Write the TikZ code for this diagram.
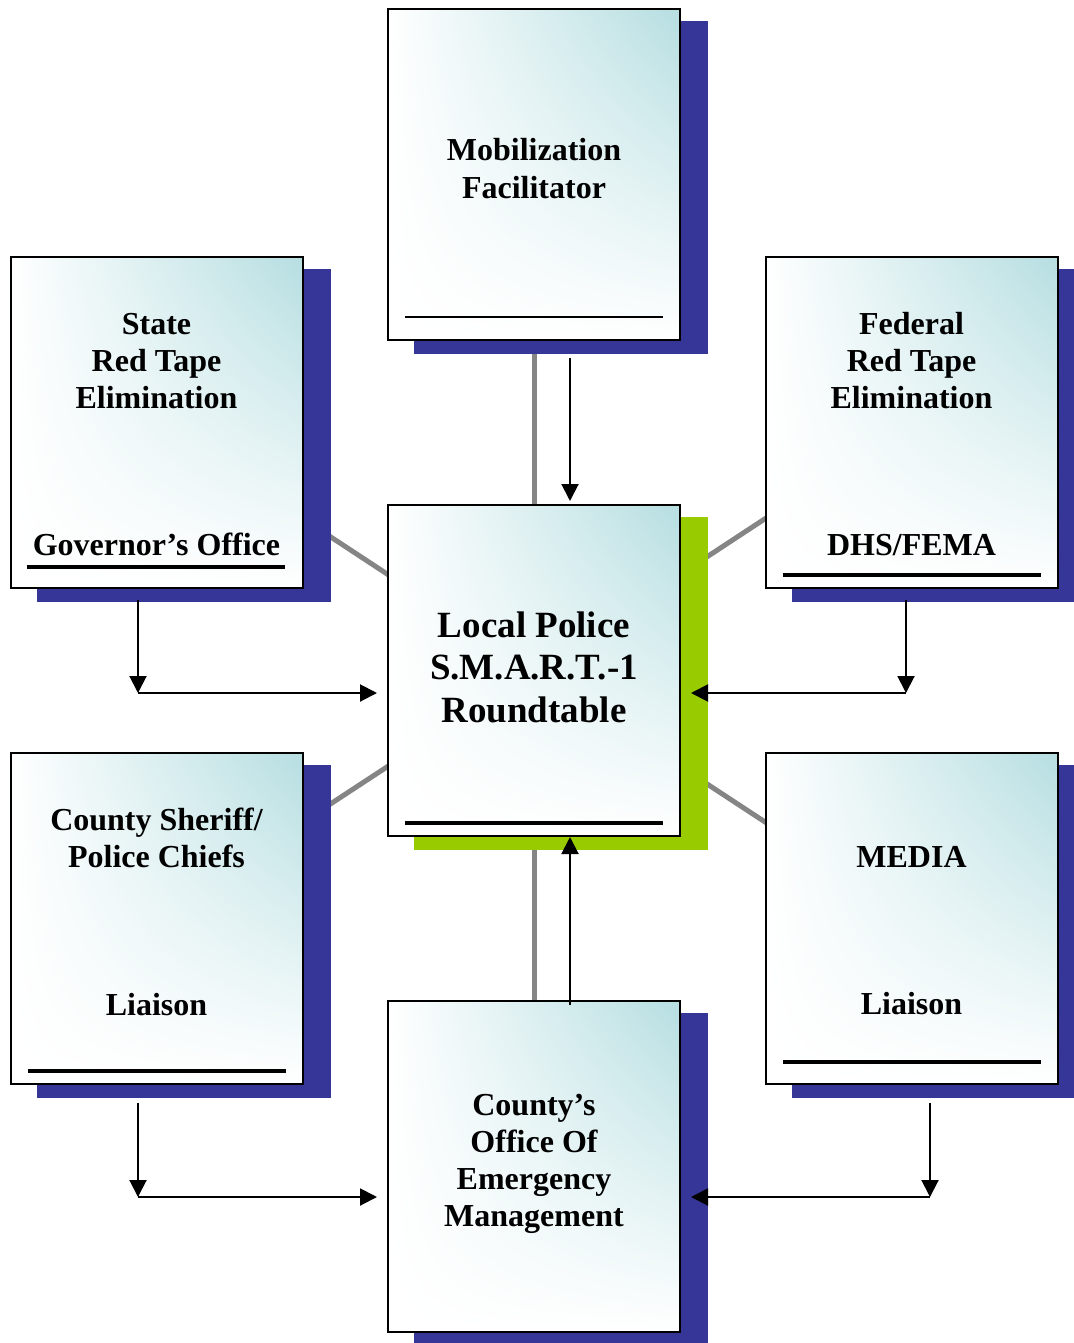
\documentclass[tikz,border=0pt]{standalone}
\usepackage{fontspec}
\setmainfont{Liberation Serif}
\usetikzlibrary{arrows.meta,calc,shadings}
\pgfdeclarelayer{bgA}
\pgfdeclarelayer{bgB}
\pgfsetlayers{bgA,bgB,main}
\definecolor{tealc}{HTML}{B6DEE1}
\definecolor{shblue}{HTML}{363598}
\definecolor{shgreen}{HTML}{99CC00}
\definecolor{connc}{HTML}{858585}
\begin{document}
\begin{tikzpicture}[x=1pt,y=-1pt,
  card/.style={draw=black,line width=2pt,minimum width=292pt,minimum height=331pt,inner sep=0pt,
    upper left=white,upper right=tealc,lower left=white,lower right=white},
  lbl/.style={font=\fontsize{32}{37}\selectfont\bfseries,align=center,inner sep=0pt,anchor=base},
  biglbl/.style={font=\fontsize{37}{42.5}\selectfont\bfseries,align=center,inner sep=0pt,anchor=base},
  uline/.style={line width=3.5pt},
  thinline/.style={line width=1.5pt},
  arr/.style={line width=2pt,-{Triangle[length=17pt,width=17pt]}},
  grayconn/.style={line width=5pt,connc},
  shadowblue/.style={fill=shblue},
  shadowgreen/.style={fill=shgreen}]
\useasboundingbox (0,0) rectangle (1073,1343);

% boxes
\node[card] (mob) at (534,174.5) {};
\node[card] (center) at (534,670.5) {};
\node[card] (oem) at (534,1166) {};
\node[card] (state) at (156.5,422.5) {};
\node[card] (fed) at (911.5,422.5) {};
\node[card] (sheriff) at (156.5,918) {};
\node[card] (media) at (911.5,918) {};

% shadows
\begin{pgfonlayer}{bgB}
\foreach \b in {mob,oem,state,fed,sheriff,media}{
  \fill[shadowblue] ($(\b.north west)+(27,13)$) rectangle ($(\b.south east)+(27,13)$);
}
\fill[shadowgreen] ($(center.north west)+(27,13)$) rectangle ($(center.south east)+(27,13)$);
\end{pgfonlayer}

% gray connectors
\begin{pgfonlayer}{bgA}
\foreach \b in {mob,oem,state,fed,sheriff,media}{
  \draw[grayconn] (\b.center) -- (center.center);
}
\end{pgfonlayer}

% texts (base anchor = baseline of the last line)
\node[lbl] (tmob) at (534,198) {Mobilization\\Facilitator};
\node[lbl] (tstate) at (156.5,408) {State\\Red Tape\\Elimination};
\node[lbl] (tgov) at (156.5,555) {Governor’s Office};
\node[lbl] (tfed) at (911.5,408) {Federal\\Red Tape\\Elimination};
\node[lbl] (tdhs) at (911.5,555) {DHS/FEMA};
\node[biglbl] (tcenter) at (534,722) {Local Police\\S.M.A.R.T.-1\\Roundtable};
\node[lbl] (tsheriff) at (156.5,867) {County Sheriff/\\Police Chiefs};
\node[lbl] (tliaA) at (156.5,1015) {Liaison};
\node[lbl] (tmedia) at (911.5,867) {MEDIA};
\node[lbl] (tliaB) at (911.5,1014) {Liaison};
\node[lbl] (toem) at (534,1226) {County’s\\Office Of\\Emergency\\Management};

% underlines
\draw[thinline] (405,317) -- (663,317);
\draw[uline] (405,823) -- (663,823);
\draw[uline] (27,567) -- (285,567);
\draw[uline] (783,575) -- (1041,575);
\draw[uline] (28,1071) -- (286,1071);
\draw[uline] (783,1062) -- (1041,1062);

% black arrows
\coordinate (sA) at (138,600);
\coordinate (sB) at (138,693);
\draw[arr] (sA) -- (sB);
\draw[arr,shorten >=10pt] (sB) -- (sB -| center.west);

\coordinate (fA) at (906,600);
\coordinate (fB) at (906,693);
\draw[arr] (fA) -- (fB);
\draw[arr,shorten >=10pt] (fB) -- (fB -| center.east);

\coordinate (hA) at (138,1103);
\coordinate (hB) at (138,1197);
\draw[arr] (hA) -- (hB);
\draw[arr,shorten >=10pt] (hB) -- (hB -| oem.west);

\coordinate (mA) at (930,1103);
\coordinate (mB) at (930,1197);
\draw[arr] (mA) -- (mB);
\draw[arr,shorten >=10pt] (mB) -- (mB -| oem.east);

\coordinate (tA) at (570,358);
\draw[arr,shorten >=3pt] (tA) -- (tA |- center.north);

\coordinate (bA) at (570,1005);
\draw[arr] (bA) -- (bA |- center.south);
\end{tikzpicture}
\end{document}
